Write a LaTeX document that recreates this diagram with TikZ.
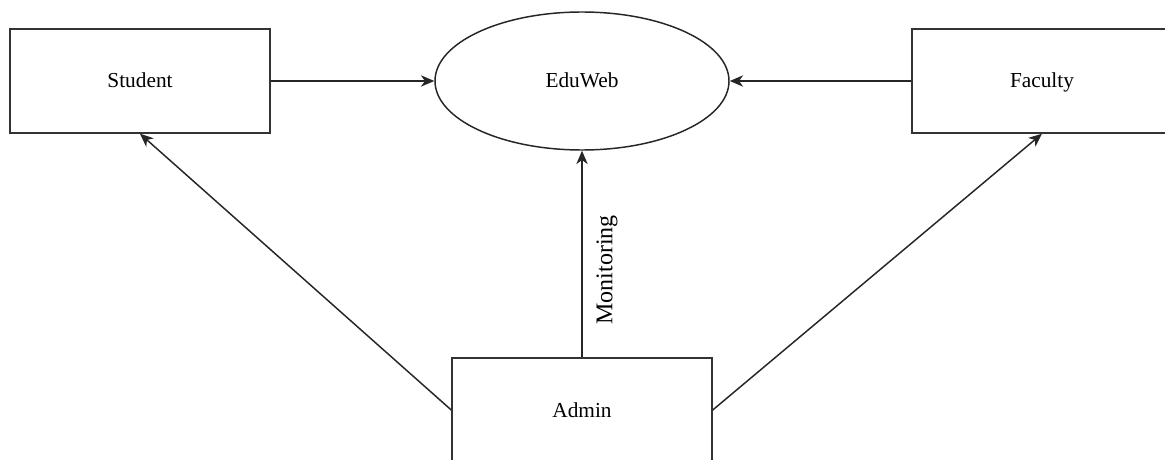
\documentclass[tikz,border=0pt]{standalone}
\usepackage{fontspec}
\setmainfont{Liberation Serif}
\usetikzlibrary{shapes.geometric,arrows.meta}
\tikzset{
  labeltext/.style={font=\fontsize{16}{19}\selectfont, text height=12.5pt, text depth=2pt},
  entity/.style={labeltext, draw=black!80, line width=1.1pt, fill=white,
    minimum width=195pt, minimum height=78pt, inner sep=0pt},
  sysnode/.style={labeltext, draw=black!85, line width=1.1pt, ellipse, fill=white,
    minimum width=220.5pt, minimum height=103.5pt, inner sep=0pt},
  flow/.style={draw=black!85, line width=1.1pt,
    -{Stealth[length=10pt,width=8.5pt,inset=3pt]}},
  flowlabel/.style={font=\fontsize{18}{21}\selectfont, rotate=90, inner sep=0pt}
}
\begin{document}
\begin{tikzpicture}[x=0.75pt,y=-0.75pt]
  \clip (0,0) rectangle (1165,460);
  \fill[white] (0,0) rectangle (1165,460);

  % actors and the central system
  \node[entity]  (student) at (140,81)  {Student};
  \node[sysnode] (eduweb)  at (582,81)  {EduWeb};
  \node[entity]  (faculty) at (1042,81) {Faculty};
  \node[entity]  (admin)   at (582,410) {Admin};

  % interactions
  \draw[flow] (student.east) -- (eduweb.west);
  \draw[flow] (faculty.west) -- (eduweb.east);
  \draw[flow] (admin.north) -- (eduweb.south);
  \draw[flow] (admin.west) -- (student.south);
  \draw[flow] (admin.east) -- (faculty.south);

  \node[flowlabel] (monlabel) at (607,270) {Monitoring};
\end{tikzpicture}
\end{document}
